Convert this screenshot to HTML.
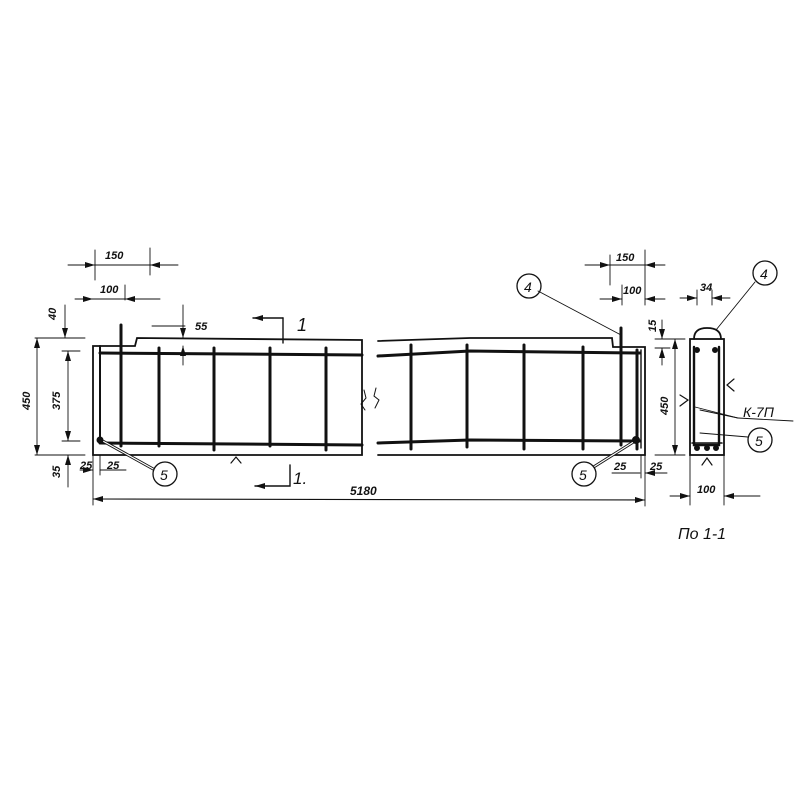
<!DOCTYPE html>
<html><head><meta charset="utf-8"><style>
html,body{margin:0;padding:0;background:#fff;}
svg{display:block;}
text{font-family:"Liberation Sans",sans-serif;font-style:italic;fill:#111;}
</style></head><body>
<svg width="800" height="800" viewBox="0 0 800 800" xmlns="http://www.w3.org/2000/svg">
<defs>
<marker id="a" viewBox="0 0 10 6" refX="10" refY="3" markerWidth="10" markerHeight="6" orient="auto-start-reverse" markerUnits="userSpaceOnUse"><path d="M0,0 L10,3 L0,6 z" fill="#111"/></marker>
</defs>
<g stroke="#111" fill="none" stroke-linecap="round">
<path d="M93,346 L135,346 L137,338 L362,340 L362,455 L93,455 Z" stroke-width="1.8"/>
<path d="M378,341 L470,338 L612,338 L613,347 L645,347 L645,455 L378,455" stroke-width="1.8"/>
<path d="M100,346 L100,443" stroke-width="2"/>
<path d="M100,353 L362,355" stroke-width="3"/>
<path d="M100,443 L362,445" stroke-width="3"/>
<g stroke-width="3">
<line x1="121" y1="325" x2="121" y2="446"/>
<line x1="159" y1="348" x2="159" y2="446"/>
<line x1="214" y1="348" x2="214" y2="450"/>
<line x1="270" y1="348" x2="270" y2="446"/>
<line x1="326" y1="348" x2="326" y2="450"/>
</g>
<path d="M378,356 L470,351 L640,353" stroke-width="3"/>
<path d="M378,443 L470,440 L640,441" stroke-width="3"/>
<g stroke-width="3">
<line x1="411" y1="345" x2="411" y2="449"/>
<line x1="467" y1="345" x2="467" y2="447"/>
<line x1="524" y1="345" x2="524" y2="449"/>
<line x1="583" y1="347" x2="583" y2="449"/>
<line x1="621" y1="328" x2="621" y2="445"/>
<line x1="637" y1="350" x2="637" y2="449"/>
</g>
<path d="M641,350 L641,448" stroke-width="1.4"/>
<path d="M364,390 L366,398 L361,404 L365,410" stroke-width="1"/>
<path d="M376,388 L374,396 L379,400 L375,408" stroke-width="1"/>
<path d="M283,318 L283,343" stroke-width="1.4"/>
<path d="M283,318 L253,318" stroke-width="1.4" marker-end="url(#a)"/>
<path d="M290,465 L290,486 L255,486" stroke-width="1.4" marker-end="url(#a)"/>
<path d="M231,463 L236,457 L241,463" stroke-width="1.2"/>
<line x1="95" y1="250" x2="95" y2="280" stroke-width="0.9"/>
<line x1="150" y1="248" x2="150" y2="275" stroke-width="0.9"/>
<line x1="68" y1="265" x2="95" y2="265" stroke-width="0.9" marker-end="url(#a)"/>
<line x1="178" y1="265" x2="150" y2="265" stroke-width="0.9" marker-end="url(#a)"/>
<line x1="95" y1="265" x2="150" y2="265" stroke-width="0.9"/>
<line x1="125" y1="285" x2="125" y2="300" stroke-width="0.9"/>
<line x1="75" y1="299" x2="93" y2="299" stroke-width="0.9" marker-end="url(#a)"/>
<line x1="145" y1="299" x2="125" y2="299" stroke-width="0.9" marker-end="url(#a)"/>
<line x1="93" y1="299" x2="160" y2="299" stroke-width="0.9"/>
<line x1="35" y1="338" x2="85" y2="338" stroke-width="0.9"/>
<line x1="65" y1="305" x2="65" y2="338" stroke-width="0.9" marker-end="url(#a)"/>
<line x1="35" y1="455" x2="85" y2="455" stroke-width="0.9"/>
<line x1="37" y1="338" x2="37" y2="455" stroke-width="0.9" marker-start="url(#a)" marker-end="url(#a)"/>
<line x1="62" y1="351" x2="80" y2="351" stroke-width="0.9"/>
<line x1="62" y1="441" x2="80" y2="441" stroke-width="0.9"/>
<line x1="68" y1="351" x2="68" y2="441" stroke-width="0.9" marker-start="url(#a)" marker-end="url(#a)"/>
<line x1="68" y1="487" x2="68" y2="455" stroke-width="0.9" marker-end="url(#a)"/>
<line x1="152" y1="326" x2="185" y2="326" stroke-width="0.9"/>
<line x1="183" y1="305" x2="183" y2="338" stroke-width="0.9" marker-end="url(#a)"/>
<line x1="183" y1="365" x2="183" y2="346" stroke-width="0.9" marker-end="url(#a)"/>
<line x1="93" y1="455" x2="93" y2="505" stroke-width="0.9"/>
<line x1="100" y1="455" x2="100" y2="475" stroke-width="0.9"/>
<line x1="80" y1="470" x2="93" y2="470" stroke-width="0.9" marker-end="url(#a)"/>
<line x1="100" y1="470" x2="126" y2="470" stroke-width="0.9"/>
<line x1="93" y1="499" x2="645" y2="500" stroke-width="1.1" marker-start="url(#a)" marker-end="url(#a)"/>
<line x1="645" y1="455" x2="645" y2="506" stroke-width="0.9"/>
<line x1="610" y1="255" x2="610" y2="285" stroke-width="0.9"/>
<line x1="645" y1="250" x2="645" y2="305" stroke-width="0.9"/>
<line x1="585" y1="265" x2="610" y2="265" stroke-width="0.9" marker-end="url(#a)"/>
<line x1="665" y1="265" x2="645" y2="265" stroke-width="0.9" marker-end="url(#a)"/>
<line x1="610" y1="265" x2="645" y2="265" stroke-width="0.9"/>
<line x1="622" y1="285" x2="622" y2="305" stroke-width="0.9"/>
<line x1="600" y1="299" x2="622" y2="299" stroke-width="0.9" marker-end="url(#a)"/>
<line x1="665" y1="299" x2="645" y2="299" stroke-width="0.9" marker-end="url(#a)"/>
<line x1="655" y1="339" x2="685" y2="339" stroke-width="0.9"/>
<line x1="655" y1="455" x2="685" y2="455" stroke-width="0.9"/>
<line x1="662" y1="320" x2="662" y2="339" stroke-width="0.9" marker-end="url(#a)"/>
<line x1="662" y1="365" x2="662" y2="348" stroke-width="0.9" marker-end="url(#a)"/>
<line x1="655" y1="348" x2="670" y2="348" stroke-width="0.9"/>
<line x1="675" y1="339" x2="675" y2="455" stroke-width="0.9" marker-start="url(#a)" marker-end="url(#a)"/>
<line x1="612" y1="473" x2="640" y2="473" stroke-width="0.9"/>
<line x1="641" y1="455" x2="641" y2="478" stroke-width="0.9"/>
<line x1="667" y1="473" x2="645" y2="473" stroke-width="0.9" marker-end="url(#a)"/>
<rect x="690" y="339" width="34" height="116" stroke-width="1.8"/>
<path d="M694,339 Q694,328 707,328 Q721,328 721,339" stroke-width="1.8"/>
<path d="M694,347 L694,445 L719,445 L719,347" stroke-width="2.4"/>
<path d="M692,443 L722,443" stroke-width="1.6"/>
<circle cx="697" cy="350" r="2.5" fill="#111"/>
<circle cx="715" cy="350" r="2.5" fill="#111"/>
<circle cx="697" cy="448" r="2.5" fill="#111"/>
<circle cx="707" cy="448" r="2.5" fill="#111"/>
<circle cx="716" cy="448" r="2.5" fill="#111"/>
<path d="M702,465 L707,458 L712,465" stroke-width="1.2"/>
<path d="M680,395 L688,400 L680,406" stroke-width="1.2"/>
<path d="M734,379 L727,385 L734,391" stroke-width="1.2"/>
<path d="M695,407 L738,418 L793,421" stroke-width="0.9"/>
<path d="M700,410 L738,418" stroke-width="0.9"/>
<line x1="700" y1="433" x2="748" y2="437" stroke-width="0.9"/>
<line x1="690" y1="455" x2="690" y2="505" stroke-width="0.9"/>
<line x1="724" y1="455" x2="724" y2="505" stroke-width="0.9"/>
<line x1="670" y1="496" x2="690" y2="496" stroke-width="0.9" marker-end="url(#a)"/>
<line x1="760" y1="496" x2="724" y2="496" stroke-width="0.9" marker-end="url(#a)"/>
<line x1="697" y1="290" x2="697" y2="305" stroke-width="0.9"/>
<line x1="712" y1="290" x2="712" y2="305" stroke-width="0.9"/>
<line x1="680" y1="298" x2="697" y2="298" stroke-width="0.9" marker-end="url(#a)"/>
<line x1="730" y1="298" x2="712" y2="298" stroke-width="0.9" marker-end="url(#a)"/>
<line x1="755" y1="282" x2="716" y2="330" stroke-width="0.9"/>
<circle cx="765" cy="273" r="12" stroke-width="1.3"/>
<line x1="538" y1="291" x2="621" y2="335" stroke-width="0.9"/>
<circle cx="529" cy="286" r="12" stroke-width="1.3"/>
<path d="M101,440 L155,470" stroke-width="3"/>
<path d="M101,440 L155,470" stroke-width="1.2" stroke="#fff"/>
<circle cx="165" cy="474" r="12" stroke-width="1.3" fill="#fff"/>
<path d="M635,441 L592,468" stroke-width="3"/>
<path d="M635,441 L592,468" stroke-width="1.2" stroke="#fff"/>
<circle cx="584" cy="474" r="12" stroke-width="1.3" fill="#fff"/>
<circle cx="760" cy="440" r="12" stroke-width="1.3"/>
<circle cx="100" cy="440" r="3" fill="#111"/>
<circle cx="636" cy="440" r="3.5" fill="#111"/>
</g>
<g font-size="11" font-weight="bold">
<text x="105" y="259">150</text>
<text x="100" y="293">100</text>
<text x="195" y="330">55</text>
<text x="616" y="261">150</text>
<text x="623" y="294">100</text>
<text x="700" y="291">34</text>
<text x="80" y="469">25</text>
<text x="107" y="469">25</text>
<text x="614" y="470">25</text>
<text x="650" y="470">25</text>
<text x="697" y="493">100</text>
<text x="350" y="495" font-size="12">5180</text>
<text transform="translate(56,320) rotate(-90)">40</text>
<text transform="translate(30,410) rotate(-90)">450</text>
<text transform="translate(60,410) rotate(-90)">375</text>
<text transform="translate(60,478) rotate(-90)">35</text>
<text transform="translate(656,332) rotate(-90)">15</text>
<text transform="translate(668,415) rotate(-90)">450</text>
</g>
<g font-size="15">
<text x="297" y="331" font-size="18">1</text>
<text x="293" y="484" font-size="17">1.</text>
<text x="524" y="292" font-size="14">4</text>
<text x="760" y="279" font-size="14">4</text>
<text x="160" y="480" font-size="14">5</text>
<text x="579" y="480" font-size="14">5</text>
<text x="755" y="446" font-size="14">5</text>
<text x="743" y="417" font-size="14">К-7П</text>
<text x="678" y="539" font-size="16">По 1-1</text>
</g>
</svg>
</body></html>
